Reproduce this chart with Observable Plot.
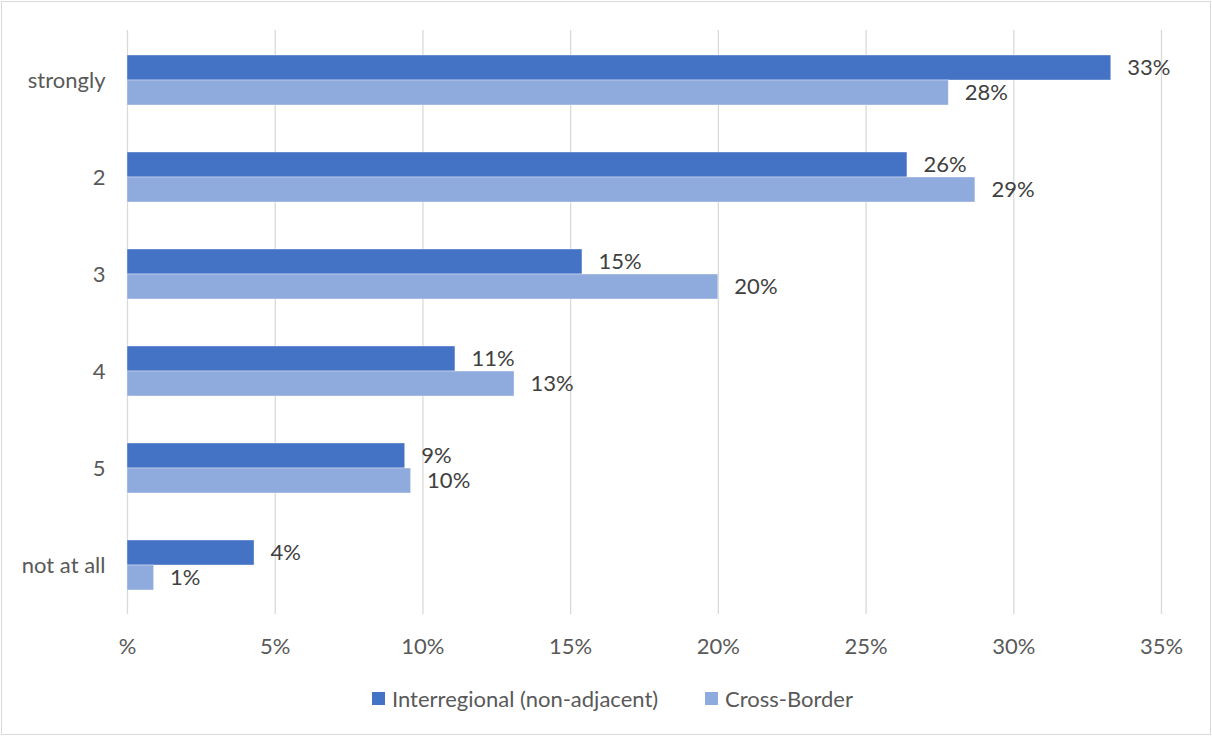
<!DOCTYPE html>
<html>
<head>
<meta charset="utf-8">
<script src="https://cdn.jsdelivr.net/npm/d3@7"></script>
<script src="https://cdn.jsdelivr.net/npm/@observablehq/plot@0.6"></script>
<style>
  html, body { margin: 0; padding: 0; background: #fff; }
  body { position: relative; width: 1212px; height: 736px; overflow: hidden; font-family: Lato, "Open Sans", sans-serif; }
  #chart { position: absolute; left: 0; top: 0; }
  #frame { position: absolute; left: 1px; top: 1px; width: 1208px; height: 732px; border: 1px solid #d9d9d9; pointer-events: none; }
  .item { position: absolute; top: 685px; display: flex; align-items: center; font-size: 22px; color: #595959; white-space: nowrap; }
  .swatch { width: 13px; height: 13px; margin-right: 7px; }
</style>
</head>
<body>
<div id="chart"></div>
<div id="legend"></div>
<div id="frame"></div>
<script>
// Answer categories, top to bottom
const categories = ["strongly", "2", "3", "4", "5", "not at all"];
// Share of respondents (%) per series
const interregional = [33.3, 26.4, 15.4, 11.1, 9.4, 4.3];
const crossBorder = [27.8, 28.7, 20.0, 13.1, 9.6, 0.9];
// Series names and colours
const seriesNames = ["Interregional (non-adjacent)", "Cross-Border"];
const seriesColors = ["#4472C4", "#8FAADC"];
// Axis ticks
const xTicks = [0, 5, 10, 15, 20, 25, 30, 35];

const rows = categories.map((cat, i) => ({cat, inter: interregional[i], cross: crossBorder[i]}));
const pct = v => `${Math.round(v)}%`;
const half = 25; // half of the category band, in px

const chart = Plot.plot({
  width: 1212,
  height: 672,
  marginLeft: 127,
  marginRight: 51,
  marginTop: 30,
  marginBottom: 58,
  style: {fontFamily: "Lato, 'Open Sans', sans-serif", fontSize: "22px", color: "#595959", background: "transparent"},
  x: {domain: [0, 35]},
  y: {domain: categories, paddingInner: 0.487, paddingOuter: 0.2435},
  marks: [
    Plot.gridX(xTicks, {stroke: "#d9d9d9", strokeOpacity: 1, strokeWidth: 1.3}),
    Plot.barX(rows, {x: "inter", y: "cat", fill: seriesColors[0], insetBottom: half, stroke: "#fff", strokeOpacity: 0.5, strokeWidth: 0.75}),
    Plot.barX(rows, {x: "cross", y: "cat", fill: seriesColors[1], insetTop: half, stroke: "#fff", strokeOpacity: 0.5, strokeWidth: 0.75}),
    Plot.text(rows, {x: "inter", y: "cat", text: d => pct(d.inter), dy: -half / 2, dx: 16, textAnchor: "start", fill: "#404040", fontSize: 22}),
    Plot.text(rows, {x: "cross", y: "cat", text: d => pct(d.cross), dy: half / 2, dx: 16, textAnchor: "start", fill: "#404040", fontSize: 22}),
    Plot.axisX({ticks: xTicks, tickFormat: d => d === 0 ? "%" : `${d}%`, tickSize: 0, tickPadding: 24, label: null}),
    Plot.axisY({tickSize: 0, tickPadding: 22, label: null})
  ]
});
document.getElementById("chart").append(chart);

// Legend below the plot
const legend = document.getElementById("legend");
const lefts = [372, 705];
seriesNames.forEach((name, i) => {
  const item = document.createElement("div");
  item.className = "item";
  item.style.left = lefts[i] + "px";
  const sw = document.createElement("span");
  sw.className = "swatch";
  sw.style.background = seriesColors[i];
  const label = document.createElement("span");
  label.textContent = name;
  item.append(sw, label);
  legend.append(item);
});
</script>
</body>
</html>
